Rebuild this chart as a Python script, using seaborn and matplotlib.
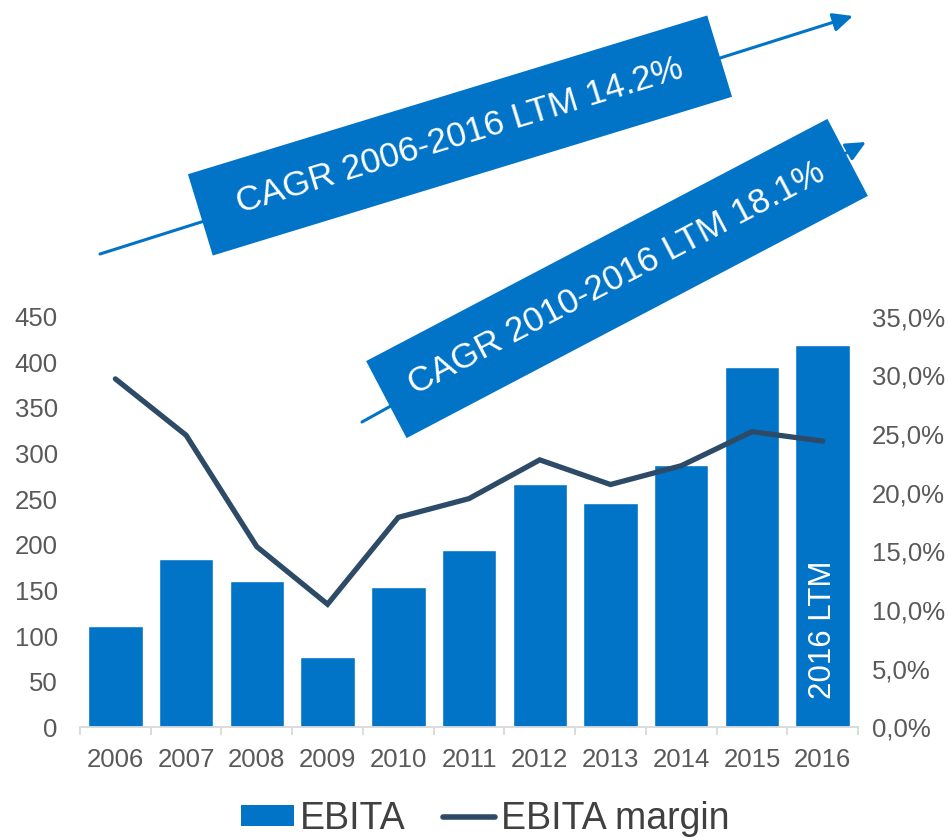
import numpy as np
import pandas as pd
import seaborn as sns
import matplotlib
matplotlib.use("Agg")
import matplotlib.pyplot as plt
from matplotlib import font_manager
from matplotlib.patches import Rectangle, FancyArrowPatch, Patch
from matplotlib.lines import Line2D
from matplotlib.transforms import Affine2D
from matplotlib.ticker import FuncFormatter

# ---- data ----
years = ["2006", "2007", "2008", "2009", "2010", "2011",
         "2012", "2013", "2014", "2015", "2016"]
ebita = [111, 185, 160, 77, 154, 194, 267, 246, 288, 395, 419]
ebita_margin = [29.7, 24.9, 15.4, 10.5, 17.9, 19.5, 22.8, 20.7, 22.3, 25.2, 24.4]
left_ticks = [0, 50, 100, 150, 200, 250, 300, 350, 400, 450]
right_ticks = [0, 5, 10, 15, 20, 25, 30, 35]
cagr_long = "CAGR 2006-2016 LTM 14.2%"
cagr_short = "CAGR 2010-2016 LTM 18.1%"
ltm_label = "2016 LTM"

BLUE = "#0274C8"
NAVY = "#2D4A66"
GREY = "#595959"
AXIS_GREY = "#D9D9D9"

sns.set_theme(style="white")
base_font = "Liberation Sans"
plt.rcParams["font.family"] = [base_font, "DejaVu Sans"]


def pick_font(name, fallback):
    try:
        font_manager.findfont(name, fallback_to_default=False)
        return name
    except Exception:
        return fallback


narrow_font = pick_font("Liberation Sans Narrow", base_font)

df = pd.DataFrame({"year": years, "ebita": ebita, "margin": ebita_margin,
                   "pos": np.arange(len(years))})

fig = plt.figure(figsize=(9.48, 8.38), dpi=100)
ax = fig.add_axes([0.0844, 0.1319, 0.8207, 0.4902])

sns.barplot(data=df, x="year", y="ebita", color=BLUE, saturation=1,
            width=0.77, ax=ax, zorder=2)

ax2 = ax.twinx()
sns.lineplot(data=df, x="pos", y="margin", color=NAVY, linewidth=3.8,
             ax=ax2, zorder=3)
for ln in ax2.lines:
    ln.set_solid_capstyle("round")
    ln.set_solid_joinstyle("miter")

n = len(years)
for a in (ax, ax2):
    a.set_xlim(-0.5, n - 0.5)
    for s in a.spines.values():
        s.set_visible(False)
    a.set_xlabel("")
    a.set_ylabel("")
    a.grid(False)

ax.set_ylim(0, 450)
ax.set_yticks(left_ticks)
ax.set_yticklabels([str(t) for t in left_ticks])
ax.tick_params(axis="y", length=0, pad=16, labelsize=18.5, labelcolor=GREY)

ax2.set_ylim(0, 35)
ax2.set_yticks(right_ticks)
ax2.yaxis.set_major_formatter(FuncFormatter(lambda v, p: f"{v:.1f}%".replace(".", ",")))
ax2.tick_params(axis="y", length=0, pad=10, labelsize=18.5, labelcolor=GREY)

# x axis: boundary tick marks, year labels between them
ax.spines["bottom"].set_visible(True)
ax.spines["bottom"].set_color(AXIS_GREY)
ax.spines["bottom"].set_linewidth(1.3)
ax.set_xticks(np.arange(-0.5, n, 1.0))
ax.set_xticklabels([""] * (n + 1))
ax.tick_params(axis="x", which="major", direction="out", length=6,
               width=1.3, color=AXIS_GREY, bottom=True)
ax.set_xticks(np.arange(n), minor=True)
ax.set_xticklabels(years, minor=True, fontsize=18.5, color=GREY,
                   family=[narrow_font, "DejaVu Sans"])
ax.tick_params(axis="x", which="minor", length=0, pad=15)
ax2.tick_params(axis="x", which="both", length=0, labelbottom=False)

ax.text(n - 1, 31, ltm_label, rotation=90, ha="center", va="bottom",
        color="white", fontsize=22.5, zorder=5)

# ---- growth banners (figure pixel geometry, y measured from the top) ----
H = 8.38


def px(x, y):
    return x / 100.0, H - y / 100.0


def banner(center, length, height, angle, text):
    cx, cy = px(*center)
    L, h = length / 100.0, height / 100.0
    tr = Affine2D().rotate_deg_around(cx, cy, angle) + fig.dpi_scale_trans
    rect = Rectangle((cx - L / 2, cy - h / 2), L, h, facecolor=BLUE,
                     edgecolor="none", transform=tr, zorder=11)
    fig.add_artist(rect)
    fig.text(cx, cy, text, transform=fig.dpi_scale_trans, rotation=angle,
             rotation_mode="anchor", ha="center", va="center",
             color="white", fontsize=25.3, zorder=12)


def arrow(start, end):
    a = FancyArrowPatch(px(*start), px(*end), transform=fig.dpi_scale_trans,
                        arrowstyle="-|>,head_length=0.6,head_width=0.28",
                        mutation_scale=20, color=BLUE, linewidth=2.2,
                        shrinkA=0, shrinkB=0, zorder=10)
    fig.add_artist(a)


arrow((100, 254), (853, 16))
banner((460, 135.5), 543, 85, 17.0, cagr_long)
arrow((362, 422), (866, 142))
banner((617, 278.5), 521, 87, 27.7, cagr_short)

# ---- legend ----
handles = [Patch(facecolor=BLUE, edgecolor="none", label="EBITA"),
           Line2D([0], [0], color=NAVY, linewidth=4, solid_capstyle="round",
                  label="EBITA margin")]
fig.legend(handles=handles, loc="center", bbox_to_anchor=(0.512, 0.0227),
           ncol=2, frameon=False, fontsize=27, labelcolor="#404040",
           handlelength=1.4, handleheight=0.5, handletextpad=0.16,
           columnspacing=1.0, borderpad=0, borderaxespad=0)

fig.savefig("out.png", dpi=100)
